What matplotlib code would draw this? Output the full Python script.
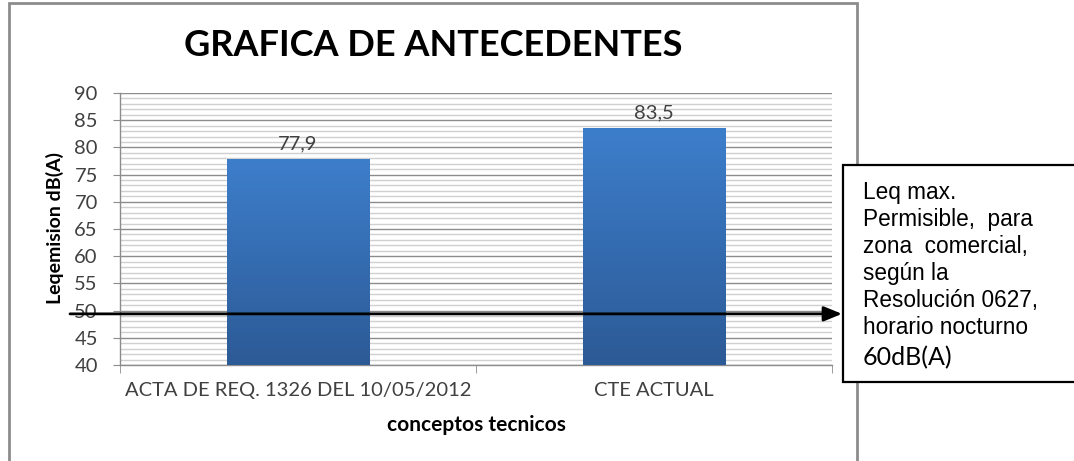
import matplotlib
matplotlib.use("Agg")
import matplotlib.pyplot as plt
import numpy as np
from matplotlib.patches import Rectangle
from matplotlib.ticker import MultipleLocator
from matplotlib.colors import LinearSegmentedColormap

categories = ["ACTA DE REQ. 1326 DEL 10/05/2012", "CTE ACTUAL"]
values = [77.9, 83.5]
value_labels = ["77,9", "83,5"]
y_ticks = [40, 45, 50, 55, 60, 65, 70, 75, 80, 85, 90]
limit_line = 49.4
title = "GRAFICA DE ANTECEDENTES"
xlabel = "conceptos tecnicos"
ylabel = "Leqemision dB(A)"
box_lines = ["Leq max.", "Permisible,  para", "zona  comercial,", "según la",
             "Resolución 0627,", "horario nocturno"]
box_last = "60dB(A)"

W, H = 1074, 461
fig = plt.figure(figsize=(W / 100, H / 100), dpi=100)
fig.patch.set_facecolor("white")

# outer chart border
fig.patches.append(Rectangle((9 / W, -0.05), (857 - 9) / W, 1.05 - 3 / H,
                             transform=fig.transFigure, fill=False,
                             edgecolor="#8c8c8c", lw=2.0, zorder=0))

ax = fig.add_axes([120 / W, 1 - 365 / H, (832 - 120) / W, (365 - 93) / H])
ax.set_facecolor("none")
x = np.arange(len(categories))

bars = ax.bar(x, [v - y_ticks[0] for v in values], bottom=y_ticks[0], width=0.4,
              color="#3a78c2", zorder=3)
grad = np.linspace(0, 1, 256).reshape(-1, 1)
cmap = LinearSegmentedColormap.from_list("g", ["#2c5a96", "#3d7ecb"])
for b in bars:
    x0, y0 = b.get_x(), b.get_y()
    w, h = b.get_width(), b.get_height()
    im = ax.imshow(grad, cmap=cmap, aspect="auto", origin="lower",
                   extent=(x0, x0 + w, y0, y0 + h), zorder=4)
    im.set_clip_path(b)
ax.set_xlim(-0.5, len(categories) - 0.5)
ax.set_ylim(y_ticks[0], y_ticks[-1])

for xi, v, lab in zip(x, values, value_labels):
    ax.annotate(lab, (xi, v), xytext=(0, 5), textcoords="offset points",
                ha="center", va="bottom", fontsize=14.5, color="#404040",
                family="Lato", fontstyle="normal", zorder=5)

ax.yaxis.set_major_locator(MultipleLocator(5))
ax.yaxis.set_minor_locator(MultipleLocator(1))
ax.grid(which="major", axis="y", color="#8c8c8c", lw=1.0, zorder=1)
ax.grid(which="minor", axis="y", color="#d0d0d0", lw=1.0, zorder=1)
ax.set_axisbelow(True)
ax.set_yticks(y_ticks)
ax.set_yticklabels([str(t) for t in y_ticks], family="Lato", fontsize=14.5, color="#404040")
ax.tick_params(axis="y", which="major", length=5, color="#8c8c8c", pad=11)
ax.tick_params(axis="y", which="minor", length=0)

ax.set_xticks(x)
ax.set_xticklabels(categories, family="Lato", fontsize=14.5, color="#404040")
ax.tick_params(axis="x", which="major", length=0, pad=12)
ax.set_xticks([-0.5, 0.5, 1.5], minor=True)
ax.tick_params(axis="x", which="minor", length=6, color="#8c8c8c")

for s in ["top", "right"]:
    ax.spines[s].set_visible(False)
for s in ["left", "bottom"]:
    ax.spines[s].set_color("#8c8c8c")
    ax.spines[s].set_linewidth(1.0)

fig.text(433 / W, 1 - 46 / H, title, ha="center", va="center",
         family="Lato", fontweight="bold", fontsize=26, color="black")
fig.text(476 / W, 1 - 425 / H, xlabel, ha="center", va="center",
         family="Lato", fontweight="bold", fontsize=15, color="black")
fig.text(55 / W, 1 - 228 / H, ylabel, ha="center", va="center", rotation=90,
         family="Lato", fontweight="bold", fontsize=14, color="black")

# annotation box
fig.patches.append(Rectangle((843 / W, 1 - 382 / H), (W + 20 - 843) / W, (382 - 165) / H,
                             transform=fig.transFigure, facecolor="white",
                             edgecolor="black", lw=1.6, zorder=6))
for i, line in enumerate(box_lines):
    fig.text(863 / W, 1 - (192 + 27 * i) / H, line, ha="left", va="center",
             family="Liberation Sans", fontsize=16.3, color="black", zorder=7)
fig.text(863 / W, 1 - 358 / H, box_last, ha="left", va="center",
         family="Lato", fontsize=18, color="black", zorder=7)

# arrow
ax.annotate("", xy=(842 / W, limit_line), xycoords=("figure fraction", "data"),
            xytext=(70 / W, limit_line), textcoords=("figure fraction", "data"),
            arrowprops=dict(arrowstyle="-|>,head_length=1.1,head_width=0.45",
                            color="black", lw=2.0, shrinkA=0, shrinkB=0),
            annotation_clip=False, zorder=8)

fig.savefig("out.png", dpi=100)
